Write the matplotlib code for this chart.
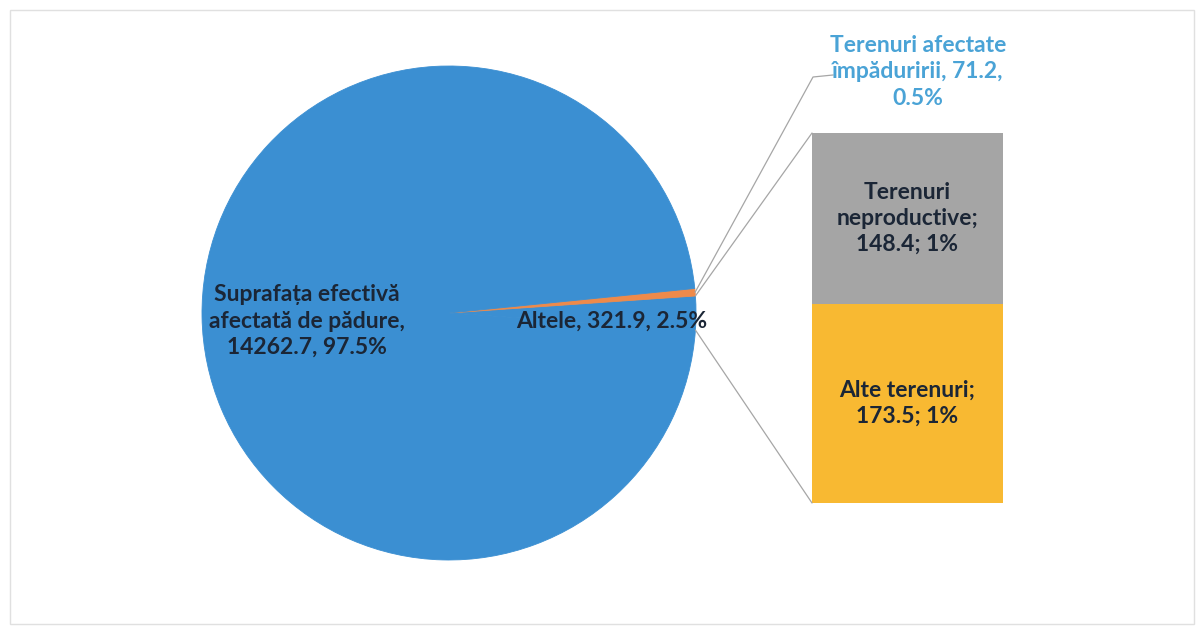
import matplotlib
matplotlib.use("Agg")
from matplotlib import pyplot as plt
from matplotlib.patches import ConnectionPatch, Rectangle
import numpy as np

plt.rcParams['font.family'] = ['Lato', 'DejaVu Sans']

# pie data (order: other slice first, so it can be centred on the right)
pie_names = ["Altele", "Terenuri afectate împăduririi", "Suprafața efectivă afectată de pădure"]
pie_values = [321.9, 71.2, 14262.7]
pie_labels = ["Altele, 321.9, 2.5%",
              "Terenuri afectate\nîmpăduririi, 71.2,\n0.5%",
              "Suprafața efectivă\nafectată de pădure,\n14262.7, 97.5%"]
pie_colors = ["#3b8fd2", "#ee8a4a", "#3b8fd2"]

# bar data (breakdown of "Altele"), bottom to top
bar_names = ["Alte terenuri", "Terenuri neproductive"]
bar_values = [173.5, 148.4]
bar_labels = ["Alte terenuri;\n173.5; 1%", "Terenuri\nneproductive;\n148.4; 1%"]
bar_colors = ["#f8b932", "#a5a5a5"]

W, H = 1203, 633
fig = plt.figure(figsize=(W / 100, H / 100), dpi=100)
ax = fig.add_axes([0, 0, 1, 1])

center = (449, 320)
radius = 247
total = sum(pie_values)
other_angle = pie_values[0] / total * 360

wedges, _ = ax.pie(pie_values, colors=pie_colors, startangle=-other_angle / 2,
                   center=center, radius=radius, counterclock=True)
for wd, col in zip(wedges, pie_colors):
    wd.set_edgecolor(col)
    wd.set_linewidth(0.6)
ax.set_xlim(0, W)
ax.set_ylim(0, H)
ax.set_aspect("equal")
ax.axis("off")

txt = dict(fontsize=16.5, fontweight="bold", color="#1b2636", ha="center",
           va="center", linespacing=1.3)

# big slice label
ax.text(307, H - 321, pie_labels[2], **txt)
# other slice label
ax.text(612, H - 321, pie_labels[0], **txt)

# leader label for the small orange slice
w = wedges[1]
mid = np.deg2rad((w.theta1 + w.theta2) / 2)
p0 = (center[0] + radius * np.cos(mid), center[1] + radius * np.sin(mid))
ax.plot([p0[0], 813, 833], [p0[1], H - 77, H - 75], color="#a6a6a6", lw=0.9)
ax.text(918, H - 72, pie_labels[1], **{**txt, "color": "#4aa3d6"})

# bar of pie
bax = ax.inset_axes([812, H - 503, 191, 370], transform=ax.transData)
bottom = 0
for val, col, lab in zip(bar_values, bar_colors, bar_labels):
    bax.bar(0, val, width=1, bottom=bottom, color=col, linewidth=0)
    bax.text(0, bottom + val / 2, lab, **txt)
    bottom += val
bax.set_xlim(-0.5, 0.5)
bax.set_ylim(0, sum(bar_values))
bax.axis("off")

# connectors between the "Altele" slice and the bar
w = wedges[0]
for theta, ybar in [(w.theta2, sum(bar_values)), (w.theta1, 0)]:
    t = np.deg2rad(theta)
    xy = (center[0] + radius * np.cos(t), center[1] + radius * np.sin(t))
    con = ConnectionPatch(xyA=(-0.5, ybar), coordsA=bax.transData,
                          xyB=xy, coordsB=ax.transData,
                          color="#a6a6a6", linewidth=0.9)
    fig.add_artist(con)

# light chart frame
fig.add_artist(Rectangle((10 / W, 9 / H), 1184 / W, 614 / H, transform=fig.transFigure,
                         fill=False, edgecolor="#e0e0e0", linewidth=1))

fig.savefig("out.png", dpi=100)
